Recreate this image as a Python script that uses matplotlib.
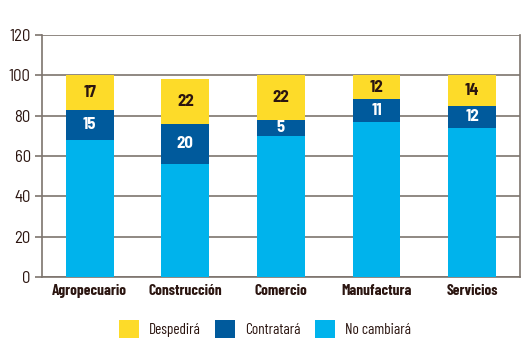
import matplotlib.pyplot as plt
import numpy as np

plt.rcParams['font.family'] = ['Barlow Condensed', 'DejaVu Sans']
num_font = ['Barlow Semi Condensed', 'DejaVu Sans']

categories = ['Agropecuario', 'Construcción', 'Comercio', 'Manufactura', 'Servicios']
no_cambiara = [68, 56, 70, 77, 74]
contratara = [15, 20, 8, 11, 11]
despedira = [17, 22, 22, 12, 15]
# numbers printed on the bars
lbl_contratara = [15, 20, 5, 11, 12]
lbl_despedira = [17, 22, 22, 12, 14]

c_yellow = '#FDDB29'
c_dark = '#005A9C'
c_light = '#00B3EC'
grid_c = '#7d746d'
txt_c = '#2b1510'

fig = plt.figure(figsize=(5.3, 3.5), dpi=100)
ax = fig.add_axes([0.079, 0.209, 0.902, 0.691])

x = np.arange(len(categories))
w = 0.5
b1 = np.array(no_cambiara)
b2 = b1 + np.array(contratara)

ax.bar(x, no_cambiara, w, color=c_light, label='No cambiará', zorder=3)
ax.bar(x, contratara, w, bottom=b1, color=c_dark, label='Contratará', zorder=3)
ax.bar(x, despedira, w, bottom=b2, color=c_yellow, label='Despedirá', zorder=3)

for i in range(len(categories)):
    ax.text(x[i], b1[i] + contratara[i] / 2, str(lbl_contratara[i]), ha='center', va='center',
            color='white', fontsize=12, fontweight='bold', family=num_font, zorder=4)
    ax.text(x[i], b2[i] + despedira[i] / 2, str(lbl_despedira[i]), ha='center', va='center',
            color=txt_c, fontsize=12, fontweight='bold', family=num_font, zorder=4)

ax.set_xlim(-0.5, 4.5)
ax.set_ylim(0, 120)
ax.set_yticks(range(0, 121, 20))
ax.yaxis.grid(True, color=grid_c, linewidth=1.2, zorder=1)
ax.set_xticks(x)
ax.set_xticklabels(categories, fontweight='bold', fontsize=11, color=txt_c)
ax.tick_params(axis='x', length=0, pad=5)
ax.tick_params(axis='y', length=5, width=1.2, color=grid_c, labelsize=12, labelcolor=txt_c, pad=3)
for t in ax.get_yticklabels():
    t.set_family(num_font)

ax.spines['top'].set_visible(False)
for s in ['left', 'bottom', 'right']:
    ax.spines[s].set_color(grid_c)
    ax.spines[s].set_linewidth(1.2)

handles, labels = ax.get_legend_handles_labels()
leg = fig.legend(handles[::-1], labels[::-1], loc='center', bbox_to_anchor=(0.5, 0.06), ncol=3,
                 frameon=False, fontsize=11, handlelength=1.3, handleheight=1.4,
                 columnspacing=0.9, handletextpad=0.7)
for t in leg.get_texts():
    t.set_color(txt_c)

fig.savefig('out.png', dpi=100)
